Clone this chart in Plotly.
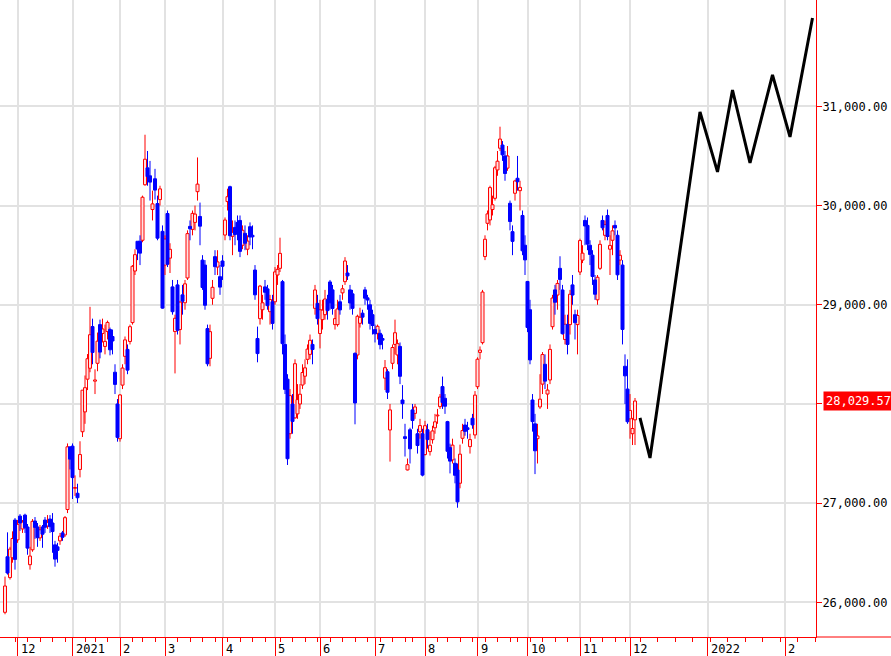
import plotly.graph_objects as go
from datetime import date, timedelta

# ---- daily candles (date, open, high, low, close) ----
nov_2020 = [
    ("2020-11-24", 25900, 26260, 25880, 26165),
    ("2020-11-25", 26460, 26706, 26280, 26296),
    ("2020-11-26", 26250, 26560, 26230, 26537),
    ("2020-11-27", 26450, 26716, 26400, 26644),
    ("2020-11-30", 26830, 26850, 26330, 26433),
]
dec_2020 = [
    ("2020-12-01", 26630, 26830, 26600, 26787),
    ("2020-12-02", 26870, 26890, 26720, 26800),
    ("2020-12-03", 26740, 26830, 26700, 26809),
    ("2020-12-04", 26880, 26894, 26700, 26751),
    ("2020-12-07", 26760, 26790, 26480, 26547),
    ("2020-12-08", 26380, 26560, 26330, 26467),
    ("2020-12-09", 26530, 26840, 26510, 26817),
    ("2020-12-10", 26820, 26860, 26640, 26756),
    ("2020-12-11", 26760, 26800, 26560, 26652),
    ("2020-12-14", 26650, 26780, 26620, 26732),
    ("2020-12-15", 26760, 26780, 26550, 26687),
    ("2020-12-16", 26830, 26860, 26700, 26757),
    ("2020-12-17", 26770, 26880, 26740, 26806),
    ("2020-12-18", 26840, 26880, 26700, 26763),
    ("2020-12-21", 26800, 26900, 26500, 26714),
    ("2020-12-22", 26580, 26620, 26360, 26436),
    ("2020-12-23", 26560, 26600, 26400, 26524),
    ("2020-12-24", 26620, 26700, 26580, 26668),
    ("2020-12-25", 26700, 26720, 26620, 26656),
    ("2020-12-28", 26680, 26870, 26660, 26854),
    ("2020-12-29", 26936, 27602, 26900, 27568),
    ("2020-12-30", 27567, 27572, 27340, 27444),
]
jan_2021 = [
    ("2021-01-04", 27575, 27602, 27042, 27258),
    ("2021-01-05", 27150, 27280, 27073, 27158),
    ("2021-01-06", 27100, 27196, 27002, 27055),
    ("2021-01-07", 27340, 27624, 27260, 27490),
    ("2021-01-08", 27720, 28139, 27667, 28139),
    ("2021-01-12", 27920, 28287, 27800, 28164),
    ("2021-01-13", 28250, 28503, 28140, 28456),
    ("2021-01-14", 28360, 28979, 28320, 28698),
    ("2021-01-15", 28780, 28860, 28400, 28519),
    ("2021-01-18", 28230, 28349, 28100, 28242),
    ("2021-01-19", 28410, 28720, 28330, 28633),
    ("2021-01-20", 28800, 28850, 28460, 28523),
    ("2021-01-21", 28710, 28860, 28620, 28756),
    ("2021-01-22", 28580, 28800, 28500, 28631),
    ("2021-01-25", 28730, 28840, 28650, 28822),
    ("2021-01-26", 28750, 28770, 28490, 28546),
    ("2021-01-27", 28680, 28750, 28500, 28635),
    ("2021-01-28", 28320, 28400, 28100, 28197),
    ("2021-01-29", 28000, 28050, 27620, 27663),
]
feb_2021 = [
    ("2021-02-01", 27650, 28100, 27620, 28091),
    ("2021-02-02", 28190, 28400, 28150, 28362),
    ("2021-02-03", 28480, 28680, 28400, 28646),
    ("2021-02-04", 28550, 28600, 28300, 28341),
    ("2021-02-05", 28630, 28800, 28600, 28779),
    ("2021-02-08", 28820, 29400, 28800, 29388),
    ("2021-02-09", 29340, 29560, 29300, 29505),
    ("2021-02-10", 29640, 29640, 29450, 29562),
    ("2021-02-12", 29640, 29700, 29400, 29520),
    ("2021-02-15", 29650, 30100, 29630, 30084),
    ("2021-02-16", 30210, 30714, 30200, 30467),
    ("2021-02-17", 30380, 30550, 30200, 30292),
    ("2021-02-18", 30300, 30450, 30050, 30236),
    ("2021-02-19", 29960, 30150, 29850, 30017),
    ("2021-02-22", 30270, 30370, 30060, 30156),
    ("2021-02-24", 30020, 30100, 29650, 29671),
    ("2021-02-25", 30060, 30200, 30000, 30168),
    ("2021-02-26", 29740, 29800, 28960, 28966),
]
mar_2021 = [
    ("2021-03-01", 29400, 29700, 29300, 29663),
    ("2021-03-02", 29920, 29950, 29380, 29408),
    ("2021-03-03", 29470, 29620, 29320, 29559),
    ("2021-03-04", 29180, 29250, 28900, 28930),
    ("2021-03-05", 28730, 28900, 28308, 28864),
    ("2021-03-08", 29200, 29250, 28700, 28743),
    ("2021-03-09", 28750, 29040, 28600, 29027),
    ("2021-03-10", 29100, 29200, 28900, 29036),
    ("2021-03-11", 29020, 29250, 28950, 29211),
    ("2021-03-12", 29270, 29750, 29250, 29717),
    ("2021-03-15", 29790, 29850, 29650, 29766),
    ("2021-03-16", 29760, 29950, 29700, 29921),
    ("2021-03-17", 29830, 30000, 29750, 29914),
    ("2021-03-18", 30140, 30485, 30050, 30216),
    ("2021-03-19", 29890, 30030, 29600, 29792),
    ("2021-03-22", 29450, 29500, 29150, 29174),
    ("2021-03-23", 29400, 29450, 28950, 28995),
    ("2021-03-24", 28760, 28800, 28380, 28405),
    ("2021-03-25", 28460, 28800, 28380, 28729),
    ("2021-03-26", 29065, 29250, 29000, 29176),
    ("2021-03-29", 29485, 29550, 29300, 29384),
    ("2021-03-30", 29380, 29550, 29300, 29432),
    ("2021-03-31", 29283, 29400, 29100, 29178),
]
apr_2021 = [
    ("2021-04-01", 29441, 29500, 29250, 29388),
    ("2021-04-02", 29703, 29880, 29650, 29854),
    ("2021-04-05", 30040, 30170, 29950, 30089),
    ("2021-04-06", 30190, 30200, 29650, 29696),
    ("2021-04-07", 29690, 29850, 29500, 29730),
    ("2021-04-08", 29780, 29850, 29600, 29708),
    ("2021-04-09", 29830, 29900, 29650, 29768),
    ("2021-04-12", 29850, 29900, 29480, 29538),
    ("2021-04-13", 29600, 29800, 29560, 29751),
    ("2021-04-14", 29720, 29800, 29550, 29620),
    ("2021-04-15", 29560, 29700, 29500, 29642),
    ("2021-04-16", 29787, 29830, 29600, 29683),
    ("2021-04-19", 29700, 29800, 29560, 29685),
    ("2021-04-20", 29350, 29400, 29050, 29100),
    ("2021-04-21", 28660, 28780, 28420, 28508),
    ("2021-04-22", 28860, 29200, 28800, 29188),
    ("2021-04-23", 28950, 29100, 28850, 29020),
    ("2021-04-26", 29180, 29250, 29050, 29126),
    ("2021-04-27", 29160, 29200, 28950, 28991),
    ("2021-04-28", 28930, 29100, 28800, 29053),
    ("2021-04-30", 29030, 29100, 28750, 28812),
]
may_2021 = [
    ("2021-05-06", 29030, 29380, 29000, 29331),
    ("2021-05-07", 29300, 29400, 29200, 29357),
    ("2021-05-10", 29367, 29676, 29330, 29518),
    ("2021-05-11", 29233, 29250, 28500, 28608),
    ("2021-05-12", 28600, 28700, 28100, 28147),
    ("2021-05-13", 28250, 28300, 27385, 27448),
    ("2021-05-14", 27700, 28150, 27650, 28084),
    ("2021-05-17", 28000, 28100, 27700, 27824),
    ("2021-05-18", 27860, 28450, 27850, 28406),
    ("2021-05-19", 27900, 28200, 27850, 28044),
    ("2021-05-20", 28000, 28200, 27950, 28098),
    ("2021-05-21", 28191, 28400, 28150, 28317),
    ("2021-05-24", 28280, 28450, 28200, 28364),
    ("2021-05-25", 28450, 28600, 28400, 28553),
    ("2021-05-26", 28500, 28700, 28450, 28642),
    ("2021-05-27", 28600, 28650, 28400, 28549),
    ("2021-05-28", 28964, 29200, 28900, 29149),
    ("2021-05-31", 29014, 29100, 28800, 28860),
]
jun_2021 = [
    ("2021-06-01", 28710, 29050, 28560, 28950),
    ("2021-06-02", 28850, 29050, 28750, 28946),
    ("2021-06-03", 28900, 29150, 28850, 29058),
    ("2021-06-04", 29050, 29100, 28850, 28941),
    ("2021-06-07", 29230, 29250, 28950, 29019),
    ("2021-06-08", 29150, 29200, 28900, 28963),
    ("2021-06-09", 28800, 28950, 28750, 28860),
    ("2021-06-10", 28800, 29050, 28780, 28958),
    ("2021-06-11", 29030, 29100, 28900, 28948),
    ("2021-06-14", 29120, 29200, 29050, 29161),
    ("2021-06-15", 29233, 29480, 29200, 29441),
    ("2021-06-16", 29320, 29400, 29250, 29291),
    ("2021-06-17", 29150, 29200, 28950, 29018),
    ("2021-06-18", 29110, 29150, 28900, 28964),
    ("2021-06-21", 28510, 28520, 27795, 28010),
    ("2021-06-22", 28494, 28900, 28450, 28884),
    ("2021-06-23", 28813, 28970, 28770, 28874),
    ("2021-06-24", 28915, 28950, 28800, 28875),
    ("2021-06-25", 29150, 29180, 29000, 29066),
    ("2021-06-28", 29070, 29100, 28950, 29048),
    ("2021-06-29", 29000, 29050, 28750, 28812),
    ("2021-06-30", 28900, 28950, 28700, 28791),
]
jul_2021 = [
    ("2021-07-01", 28750, 28800, 28620, 28707),
    ("2021-07-02", 28712, 28800, 28650, 28783),
    ("2021-07-05", 28712, 28750, 28550, 28598),
    ("2021-07-06", 28660, 28700, 28550, 28643),
    ("2021-07-07", 28260, 28443, 28140, 28366),
    ("2021-07-08", 28325, 28350, 28050, 28118),
    ("2021-07-09", 27738, 28000, 27419, 27940),
    ("2021-07-12", 28410, 28600, 28350, 28569),
    ("2021-07-13", 28600, 28850, 28500, 28718),
    ("2021-07-14", 28494, 28650, 28400, 28608),
    ("2021-07-15", 28580, 28620, 28200, 28279),
    ("2021-07-16", 28040, 28190, 27850, 28003),
    ("2021-07-19", 27670, 27800, 27470, 27652),
    ("2021-07-20", 27335, 27450, 27330, 27388),
    ("2021-07-21", 27740, 27760, 27400, 27548),
    ("2021-07-26", 27940, 28000, 27750, 27833),
    ("2021-07-27", 27905, 28000, 27850, 27970),
    ("2021-07-28", 27700, 27750, 27500, 27581),
    ("2021-07-29", 27720, 27850, 27650, 27782),
    ("2021-07-30", 27700, 27750, 27270, 27283),
]
aug_2021 = [
    ("2021-08-02", 27490, 27830, 27480, 27781),
    ("2021-08-03", 27740, 27800, 27550, 27641),
    ("2021-08-04", 27520, 27720, 27480, 27584),
    ("2021-08-05", 27640, 27780, 27600, 27728),
    ("2021-08-06", 27760, 27900, 27700, 27820),
    ("2021-08-10", 27880, 27950, 27800, 27888),
    ("2021-08-11", 27973, 28100, 27950, 28070),
    ("2021-08-12", 28175, 28276, 27950, 28015),
    ("2021-08-13", 28057, 28100, 27900, 27977),
    ("2021-08-16", 27822, 27830, 27450, 27523),
    ("2021-08-17", 27560, 27600, 27300, 27424),
    ("2021-08-18", 27436, 27650, 27400, 27585),
    ("2021-08-19", 27402, 27450, 27200, 27281),
    ("2021-08-20", 27335, 27400, 26954, 27013),
    ("2021-08-23", 27201, 27590, 27150, 27494),
    ("2021-08-24", 27654, 27800, 27600, 27732),
    ("2021-08-25", 27788, 27850, 27680, 27724),
    ("2021-08-26", 27760, 27820, 27650, 27742),
    ("2021-08-27", 27570, 27700, 27500, 27641),
    ("2021-08-30", 27856, 27900, 27750, 27789),
    ("2021-08-31", 27688, 28130, 27650, 28089),
]
sep_2021 = [
    ("2021-09-01", 28174, 28470, 28150, 28451),
    ("2021-09-02", 28520, 28580, 28450, 28543),
    ("2021-09-03", 28618, 29150, 28600, 29128),
    ("2021-09-06", 29486, 29700, 29450, 29660),
    ("2021-09-07", 29821, 29950, 29750, 29916),
    ("2021-09-08", 29855, 30200, 29800, 30181),
    ("2021-09-09", 29960, 30100, 29900, 30008),
    ("2021-09-10", 30073, 30400, 30050, 30381),
    ("2021-09-13", 30359, 30550, 30300, 30447),
    ("2021-09-14", 30578, 30795, 30550, 30670),
    ("2021-09-15", 30610, 30650, 30450, 30511),
    ("2021-09-16", 30500, 30550, 30250, 30323),
    ("2021-09-17", 30377, 30600, 30350, 30500),
    ("2021-09-21", 30023, 30050, 29750, 29839),
    ("2021-09-22", 29737, 29800, 29500, 29639),
    ("2021-09-24", 30124, 30260, 30050, 30248),
    ("2021-09-27", 30275, 30500, 30150, 30240),
    ("2021-09-28", 30150, 30250, 29950, 30183),
    ("2021-09-29", 29900, 29950, 29500, 29544),
    ("2021-09-30", 29600, 29700, 29300, 29452),
]
oct_2021 = [
    ("2021-10-01", 29235, 29240, 28724, 28771),
    ("2021-10-04", 28950, 29050, 28400, 28444),
    ("2021-10-05", 28040, 28100, 27721, 27822),
    ("2021-10-06", 27800, 27900, 27293, 27528),
    ("2021-10-07", 27650, 27800, 27400, 27678),
    ("2021-10-08", 27970, 28300, 27950, 28048),
    ("2021-10-11", 28200, 28523, 28100, 28498),
    ("2021-10-12", 28400, 28500, 28150, 28230),
    ("2021-10-13", 28100, 28200, 27950, 28140),
    ("2021-10-14", 28242, 28600, 28200, 28550),
    ("2021-10-15", 28779, 29100, 28750, 29068),
    ("2021-10-18", 29150, 29200, 28900, 29025),
    ("2021-10-19", 29098, 29250, 28950, 29215),
    ("2021-10-20", 29367, 29489, 29150, 29255),
    ("2021-10-21", 29149, 29200, 28700, 28708),
    ("2021-10-22", 28650, 28900, 28600, 28804),
    ("2021-10-25", 28800, 28900, 28500, 28600),
    ("2021-10-26", 28800, 29150, 28700, 29106),
    ("2021-10-27", 29200, 29300, 29000, 29098),
    ("2021-10-28", 28900, 28950, 28650, 28820),
    ("2021-10-29", 28800, 28950, 28500, 28892),
]
nov_2021 = [
    ("2021-11-01", 29330, 29666, 29300, 29647),
    ("2021-11-02", 29450, 29600, 29420, 29520),
    ("2021-11-04", 29850, 29900, 29600, 29794),
    ("2021-11-05", 29800, 29880, 29550, 29611),
    ("2021-11-08", 29600, 29650, 29400, 29507),
    ("2021-11-09", 29500, 29550, 29200, 29285),
    ("2021-11-10", 29250, 29300, 29050, 29106),
    ("2021-11-11", 29050, 29300, 29000, 29277),
    ("2021-11-12", 29367, 29650, 29350, 29609),
    ("2021-11-15", 29850, 29900, 29750, 29776),
    ("2021-11-16", 29700, 29850, 29650, 29808),
    ("2021-11-17", 29900, 29960, 29650, 29688),
    ("2021-11-18", 29560, 29700, 29300, 29598),
    ("2021-11-19", 29650, 29800, 29500, 29745),
    ("2021-11-22", 29800, 29850, 29700, 29774),
    ("2021-11-24", 29700, 29750, 29250, 29302),
    ("2021-11-25", 29450, 29550, 29400, 29499),
    ("2021-11-26", 29400, 29450, 28600, 28751),
    ("2021-11-29", 28380, 28500, 28000, 28283),
    ("2021-11-30", 28150, 28450, 27800, 27821),
]
dec_2021 = [
    ("2021-12-01", 27850, 28100, 27650, 27935),
    ("2021-12-02", 27700, 27860, 27586, 27753),
    ("2021-12-03", 27840, 28060, 27586, 28029.57),
]

# ---- projected path (black zig-zag) ----
proj_dates = ["2021-12-05", "2021-12-09", "2021-12-29", "2022-01-05", "2022-01-11",
              "2022-01-18", "2022-01-27", "2022-02-03", "2022-02-12"]
proj_values = [27860, 27456, 30944, 30339, 31165, 30429, 31317, 30692, 31891]

price_ticks = [26000, 27000, 28000, 29000, 30000, 31000]

# ---- assemble ----
rows = (nov_2020 + dec_2020 + jan_2021 + feb_2021 + mar_2021 + apr_2021 + may_2021 +
        jun_2021 + jul_2021 + aug_2021 + sep_2021 + oct_2021 + nov_2021 + dec_2021)
dates = [date.fromisoformat(r[0]) for r in rows]
opens = [r[1] for r in rows]
highs = [r[2] for r in rows]
lows = [r[3] for r in rows]
closes = [r[4] for r in rows]
xs = list(range(len(rows)))
last_i, last_d = xs[-1], dates[-1]


def future_x(d):
    return last_i + (d - last_d).days


X_MIN, X_MAX = -2.0, 324.4

# month ticks and weekly minor ticks
month_x, month_lbl = [], []
week_x = []
for i in range(1, len(dates)):
    if dates[i].month != dates[i - 1].month:
        month_x.append(i)
        month_lbl.append(str(dates[i].year) if dates[i].month == 1 else str(dates[i].month))
    if dates[i].isocalendar()[1] != dates[i - 1].isocalendar()[1]:
        week_x.append(i)
d = last_d + timedelta(days=1)
while future_x(d) <= X_MAX:
    if d.day == 1:
        month_x.append(future_x(d))
        month_lbl.append(str(d.year) if d.month == 1 else str(d.month))
    if d.weekday() == 6:
        week_x.append(future_x(d))
    d += timedelta(days=1)

proj_x = [future_x(date.fromisoformat(s)) for s in proj_dates]

RED, BLUE = "#ff0000", "#0000ff"
FONT = "DejaVu Sans Mono"
BODY_W = 1.2

fig = go.Figure()

# candle bodies and wicks, split by direction
for is_up, color, fill in [(True, RED, "#ffe2e2"), (False, BLUE, BLUE)]:
    idx = [i for i in xs if (closes[i] >= opens[i]) == is_up]
    fig.add_trace(go.Bar(
        x=idx,
        y=[abs(closes[i] - opens[i]) for i in idx],
        base=[min(opens[i], closes[i]) for i in idx],
        width=BODY_W,
        marker=dict(color=fill, line=dict(color=color, width=1)),
        hoverinfo="skip", showlegend=False,
    ))
    wx, wy = [], []
    for i in idx:
        wx += [i, i, None, i, i, None]
        wy += [highs[i], max(opens[i], closes[i]), None,
               min(opens[i], closes[i]), lows[i], None]
    fig.add_trace(go.Scatter(
        x=wx, y=wy, mode="lines", line=dict(color=color, width=1),
        hoverinfo="skip", showlegend=False,
    ))

fig.add_trace(go.Scatter(
    x=proj_x, y=proj_values, mode="lines",
    line=dict(color="black", width=3), hoverinfo="skip", showlegend=False,
))

last_close = closes[-1]
tick_text = ["" if abs(v - last_close) < 300 else f"{v:,.2f}" for v in price_ticks]

annotations = [
    dict(x=mx, xref="x", y=0, yref="paper", text=lbl, showarrow=False,
         xanchor="left", yanchor="top", xshift=1, yshift=-3,
         font=dict(family=FONT, size=12, color="black"))
    for mx, lbl in zip(month_x, month_lbl)
]
annotations.append(dict(
    x=1, xref="paper", y=last_close, yref="y", text=f"{last_close:,.2f}",
    showarrow=False, xanchor="left", yanchor="middle", xshift=7,
    bgcolor=RED, borderpad=2, font=dict(family=FONT, size=12, color="white"),
))

fig.update_layout(
    width=891, height=656,
    margin=dict(l=0, r=75, t=0, b=19, pad=0),
    paper_bgcolor="white", plot_bgcolor="white",
    barmode="overlay", showlegend=False,
    xaxis=dict(
        range=[X_MIN, X_MAX],
        tickmode="array", tickvals=month_x, showticklabels=False,
        ticks="outside", ticklen=19, tickcolor=RED, tickwidth=1,
        showgrid=True, gridcolor="#e2e2e2", gridwidth=2,
        showline=True, linecolor=RED, linewidth=1, zeroline=False,
        minor=dict(tickmode="array", tickvals=week_x, ticks="outside",
                   ticklen=4, tickcolor=RED, tickwidth=1, showgrid=False),
    ),
    yaxis=dict(
        side="right", range=[25651, 32072],
        tickmode="array", tickvals=price_ticks, ticktext=tick_text,
        ticks="outside", ticklen=5, tickcolor=RED, tickwidth=1,
        ticklabelstandoff=-2,
        showgrid=True, gridcolor="#e2e2e2", gridwidth=2,
        showline=True, linecolor=RED, linewidth=1, zeroline=False,
        tickfont=dict(family=FONT, size=12, color="black"),
    ),
    shapes=[dict(type="line", xref="paper", yref="paper", x0=1, x1=1.1, y0=0, y1=0,
                 line=dict(color=RED, width=1))],
    annotations=annotations,
)

fig.write_html("out.html", config={"displayModeBar": False},
               post_script="document.body.style.margin='0';document.body.style.overflow='hidden';")
